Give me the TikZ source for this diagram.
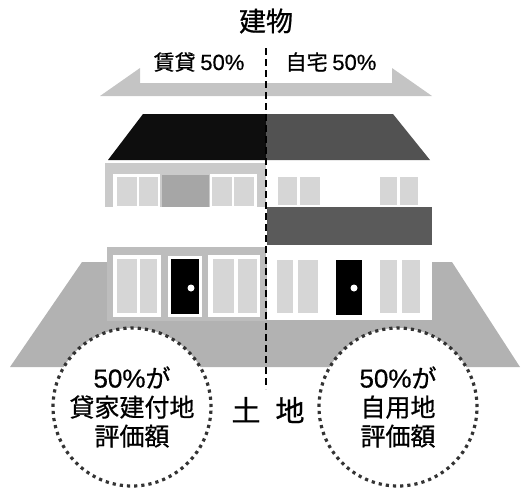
\documentclass[tikz,border=0pt]{standalone}
\usepackage{fontspec}
\setmainfont{Noto Sans CJK JP}[FakeBold=0.7]
\newfontfamily\latinpart{Liberation Sans}[FakeBold=0.5]
\definecolor{bannergray}{HTML}{C4C4C4}
\definecolor{groundgray}{HTML}{B2B2B2}
\definecolor{wallgray}{HTML}{BDBDBD}
\definecolor{upperwall}{HTML}{CACACA}
\definecolor{midpanel}{HTML}{A6A6A6}
\definecolor{panegray}{HTML}{D6D6D6}
\definecolor{roofdark}{HTML}{0E0E0E}
\definecolor{roofgray}{HTML}{525252}
\definecolor{bandgray}{HTML}{5A5A5A}
\newcommand{\pct}[1]{{\latinpart\fontsize{#1}{#1}\selectfont 50\%}}
\begin{document}
\begin{tikzpicture}[x=1pt,y=-1pt,
  pane/.style={fill=panegray},
  frame/.style={fill=white},
  door/.style={fill=black},
  knob/.style={fill=white,circle,inner sep=0pt,minimum size=7pt},
  heading/.style={font=\fontsize{27}{30}\selectfont},
  share/.style={font=\fontsize{21}{24}\selectfont},
  landlabel/.style={font=\fontsize{29}{30}\selectfont},
  valcircle/.style={circle,minimum size=158pt,inner sep=0pt,fill=white,
    draw=black!80,line width=3.2pt,dash pattern=on 3.2pt off 4pt,
    align=center,font=\fontsize{25}{29}\selectfont},
  divider/.style={line width=2.8pt,dash pattern=on 7pt off 4pt}]
\useasboundingbox (0,0) rectangle (525,491);

% banner under the building shares
\fill[bannergray] (100,96) -- (140,68) -- (140,83) -- (392,83) -- (392,68)
  -- (432,96) -- cycle;

% ground
\fill[groundgray] (82,262) -- (452,262) -- (520,367) -- (10,367) -- cycle;

% roof
\fill[roofdark] (143,114) -- (266,114) -- (266,160) -- (108,160) -- cycle;
\fill[roofgray] (266,114) -- (393,114) -- (430,160) -- (266,160) -- cycle;

% upper floor, rented half
\fill[upperwall] (105,163) rectangle (266,207);
\fill[frame] (113,174) rectangle (160,207);
\fill[pane] (117,177) rectangle (137,206);
\fill[pane] (139,177) rectangle (158,206);
\fill[midpanel] (162,175) rectangle (209,207);
\fill[frame] (210,174) rectangle (257,207);
\fill[pane] (212,177) rectangle (232,206);
\fill[pane] (234,177) rectangle (254,206);

% upper floor, owner half
\fill[pane] (278,177) rectangle (297,205);
\fill[pane] (300,177) rectangle (320,205);
\fill[pane] (380,177) rectangle (397,205);
\fill[pane] (400,177) rectangle (418,205);
\fill[bandgray] (267,207) rectangle (432,245);

% ground floor, rented half
\fill[wallgray] (107,247) rectangle (266,321);
\fill[frame] (113,255) rectangle (161,317);
\fill[pane] (117,259) rectangle (137,313);
\fill[pane] (140,259) rectangle (157,313);
\fill[frame] (168,256) rectangle (202,317);
\fill[door] (171,259) rectangle (199,314);
\node[knob] (lknob) at (191,288) {};
\fill[frame] (208,255) rectangle (260,317);
\fill[pane] (213,259) rectangle (234,313);
\fill[pane] (238,259) rectangle (257,313);

% ground floor, owner half
\fill[white] (267,247) rectangle (432,320);
\fill[pane] (277,260) rectangle (293,313);
\fill[pane] (298,260) rectangle (318,313);
\fill[door] (336,260) rectangle (362,315);
\node[knob] (rknob) at (354,288) {};
\fill[pane] (380,260) rectangle (397,313);
\fill[pane] (402,260) rectangle (420,313);

% valuation circles on the land
\node[valcircle] (rented) at (132,407) {\pct{26}が\\貸家建付地\\評価額};
\node[valcircle] (owned) at (398,407) {\pct{26}が\\自用地\\評価額};

% dividing line between the two shares
\coordinate (divtop) at (266,48);
\coordinate (divbot) at (266,389);
\draw[divider] (divtop) -- (divbot);

% labels
\node[heading] (building) at (266,21) {建物};
\node[share] (rentshare) at (199,62) {賃貸 \pct{22}};
\node[share] (ownshare) at (331,62) {自宅 \pct{22}};
\node[landlabel] (land) at (268,410) {土\hspace{15pt}地};
\end{tikzpicture}
\end{document}
